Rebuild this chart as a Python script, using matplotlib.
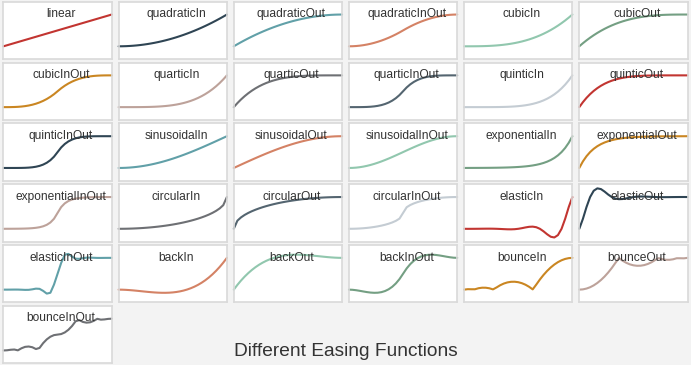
import numpy as np
import matplotlib
matplotlib.use("Agg")
import matplotlib.pyplot as plt

# easing curves, sampled at 31 points (t = 0 .. 1, step 1/30)
t = np.linspace(0, 1, 31)

linear = [0, .0333, .0667, .1, .1333, .1667, .2, .2333, .2667, .3, .3333, .3667, .4, .4333, .4667, .5,
          .5333, .5667, .6, .6333, .6667, .7, .7333, .7667, .8, .8333, .8667, .9, .9333, .9667, 1]
quadraticIn = [0, .0011, .0044, .01, .0178, .0278, .04, .0544, .0711, .09, .1111, .1344, .16, .1878, .2178, .25,
               .2844, .3211, .36, .4011, .4444, .49, .5378, .5878, .64, .6944, .7511, .81, .8711, .9344, 1]
quadraticOut = [0, .0656, .1289, .19, .2489, .3056, .36, .4122, .4622, .51, .5556, .5989, .64, .6789, .7156, .75,
                .7822, .8122, .84, .8656, .8889, .91, .9289, .9456, .96, .9722, .9822, .99, .9956, .9989, 1]
quadraticInOut = [0, .0022, .0089, .02, .0356, .0556, .08, .1089, .1422, .18, .2222, .2689, .32, .3756, .4356, .5,
                  .5644, .6244, .68, .7311, .7778, .82, .8578, .8911, .92, .9444, .9644, .98, .9911, .9978, 1]
cubicIn = [0, 0, .0003, .001, .0024, .0046, .008, .0127, .019, .027, .037, .0493, .064, .0814, .1016, .125,
           .1517, .182, .216, .254, .2963, .343, .3944, .4506, .512, .5787, .651, .729, .813, .9033, 1]
cubicOut = [0, .0967, .187, .271, .349, .4213, .488, .5494, .6056, .657, .7037, .746, .784, .818, .8483, .875,
            .8984, .9186, .936, .9507, .963, .973, .981, .9873, .992, .9954, .9976, .999, .9997, 1, 1]
cubicInOut = [0, .0001, .0012, .004, .0095, .0185, .032, .0508, .0759, .108, .1481, .1972, .256, .3255, .4065, .5,
              .5935, .6745, .744, .8028, .8519, .892, .9241, .9492, .968, .9815, .9905, .996, .9988, .9999, 1]
quarticIn = [0, 0, 0, .0001, .0003, .0008, .0016, .003, .0051, .0081, .0123, .0181, .0256, .0353, .0474, .0625,
             .0809, .1031, .1296, .1609, .1975, .2401, .2892, .3455, .4096, .4823, .5642, .6561, .7588, .8732, 1]
quarticOut = [0, .1268, .2412, .3439, .4358, .5178, .5904, .6545, .7108, .7599, .8025, .8391, .8704, .8969, .9191,
              .9375, .9526, .9647, .9744, .9819, .9877, .9919, .9949, .997, .9984, .9992, .9997, .9999, 1, 1, 1]
quarticInOut = [0, 0, .0002, .0008, .0025, .0062, .0128, .0237, .0405, .0648, .0988, .1446, .2048, .2821, .3794, .5,
                .6206, .7179, .7952, .8554, .9012, .9352, .9595, .9763, .9872, .9938, .9975, .9992, .9998, 1, 1]
quinticIn = [0, 0, 0, 0, 0, .0001, .0003, .0007, .0013, .0024, .0041, .0066, .0102, .0153, .0221, .0313,
             .0432, .0584, .0778, .1019, .1317, .1681, .2121, .2649, .3277, .4019, .4889, .5905, .7082, .8441, 1]
quinticOut = [0, .1559, .2918, .4095, .5111, .5981, .6723, .7351, .7879, .8319, .8683, .8981, .9222, .9416, .9568,
              .9688, .9779, .9847, .9898, .9934, .9959, .9976, .9987, .9993, .9997, .9999, 1, 1, 1, 1, 1]
quinticInOut = [0, 0, 0, .0002, .0007, .0021, .0051, .0111, .0216, .0389, .0658, .1061, .1638, .2445, .3541, .5,
                .6459, .7555, .8362, .8939, .9342, .9611, .9784, .9889, .9949, .9979, .9993, .9998, 1, 1, 1]
sinusoidalIn = [0, .0014, .0055, .0123, .0219, .0341, .0489, .0664, .0865, .109, .134, .1613, .191, .2229, .2569,
                .2929, .3309, .3707, .4122, .4554, .5, .546, .5933, .6416, .691, .7412, .7921, .8436, .8955, .9477, 1]
sinusoidalOut = [0, .0523, .1045, .1564, .2079, .2588, .309, .3584, .4067, .454, .5, .5446, .5878, .6293, .6691,
                 .7071, .7431, .7772, .809, .8387, .866, .891, .9136, .9336, .9511, .9659, .9781, .9877, .9945, .9986, 1]
sinusoidalInOut = [0, .0027, .0109, .0245, .0432, .067, .0955, .1284, .1654, .2061, .25, .2966, .3455, .396, .4477,
                   .5, .5523, .604, .6545, .7034, .75, .7939, .8346, .8716, .9045, .933, .9568, .9755, .9891, .9973, 1]
exponentialIn = [0, .0012, .0016, .002, .0025, .0031, .0039, .0049, .0062, .0078, .0098, .0124, .0156, .0197, .0248,
                 .0313, .0394, .0496, .0625, .0787, .0992, .125, .1575, .1984, .25, .315, .3969, .5, .63, .7937, 1]
exponentialOut = [0, .2063, .37, .5, .6032, .685, .75, .8016, .8425, .875, .9008, .9213, .9375, .9504, .9606, .9688,
                  .9752, .9803, .9844, .9876, .9902, .9922, .9938, .9951, .9961, .9969, .9975, .998, .9985, .9988, 1]
exponentialInOut = [0, .0008, .0012, .002, .0031, .0049, .0078, .0124, .0197, .0313, .0496, .0787, .125, .1984, .315,
                    .5, .685, .8016, .875, .9213, .9504, .9688, .9803, .9876, .9922, .9951, .9969, .998, .9988, .9992, 1]
circularIn = [0, .0006, .0022, .005, .0089, .014, .0202, .0276, .0362, .0461, .0572, .0696, .0835, .0988, .1156,
              .134, .1541, .1761, .2, .2261, .2546, .2859, .3201, .358, .4, .4472, .5011, .5641, .641, .744, 1]
circularOut = [0, .256, .359, .4359, .4989, .5528, .6, .6421, .6799, .7141, .7454, .7739, .8, .824, .8459, .866,
               .8844, .9012, .9165, .9304, .9428, .9539, .9638, .9724, .9798, .986, .9911, .995, .9978, .9994, 1]
circularInOut = [0, .0011, .0045, .0101, .0181, .0286, .0417, .0578, .0771, .1, .1273, .1601, .2, .2506, .3205, .5,
                 .6795, .7494, .8, .8399, .8727, .9, .9229, .9422, .9583, .9714, .9819, .9899, .9955, .9989, 1]
elasticIn = [0, -.0011, -.0008, 0, .0012, .0027, .0039, .0043, .0031, 0, -.0049, -.0107, -.0156, -.017, -.0124, 0,
             .0197, .043, .0625, .0682, .0496, 0, -.0787, -.1718, -.25, -.2728, -.1984, 0, .315, .6874, 1]
elasticOut = [0, .3126, .685, 1, 1.1984, 1.2728, 1.25, 1.1718, 1.0787, 1, .9504, .9318, .9375, .957, .9803, 1,
              1.0124, 1.017, 1.0156, 1.0107, 1.0049, 1, .9969, .9957, .9961, .9973, .9988, 1, 1.0008, 1.0011, 1]
elasticInOut = [0, -.0004, .0006, .002, .0016, -.0025, -.0078, -.0062, .0098, .0313, .0248, -.0394, -.125, -.0992,
                .1575, .5, .8425, 1.0992, 1.125, 1.0394, .9752, .9688, .9902, 1.0062, 1.0078, 1.0025, .9984, .998,
                .9994, 1.0004, 1]
backIn = [0, -.0018, -.0068, -.0143, -.0238, -.0348, -.0465, -.0583, -.0698, -.0802, -.089, -.0956, -.0994, -.0997,
          -.096, -.0877, -.0742, -.0548, -.029, .0038, .0442, .0929, .1504, .2173, .2942, .3818, .4806, .5912,
          .7142, .8503, 1]
backOut = [0, .1497, .2858, .4088, .5194, .6182, .7058, .7827, .8496, .9071, .9558, .9962, 1.029, 1.0548, 1.0742,
           1.0877, 1.096, 1.0997, 1.0994, 1.0956, 1.089, 1.0802, 1.0698, 1.0583, 1.0465, 1.0348, 1.0238, 1.0143,
           1.0068, 1.0018, 1]
backInOut = [0, -.0052, -.0188, -.0375, -.0582, -.0776, -.0926, -.0999, -.0964, -.0788, -.0441, .0111, .0899, .1955,
             .3312, .5, .6688, .8045, .9101, .9889, 1.0441, 1.0788, 1.0964, 1.0999, 1.0926, 1.0776, 1.0582, 1.0375,
             1.0188, 1.0052, 1]
bounceIn = [0, .0145, .0122, .0119, .0447, .0608, .06, .0424, .0081, .0694, .1389, .1916, .2275, .2466, .2489,
            .2344, .2031, .1549, .09, .0083, .1597, .3194, .4622, .5883, .6975, .7899, .8656, .9244, .9664, .9916, 1]
bounceOut = [0, .0084, .0336, .0756, .1344, .2101, .3025, .4117, .5378, .6806, .8403, .9917, .91, .8451, .7969,
             .7656, .7511, .7534, .7725, .8084, .8611, .9306, .9919, .9576, .94, .9392, .9553, .9881, .9878, .9855, 1]
bounceInOut = [0, .0061, .0224, .03, .004, .0694, .1138, .1244, .1015, .045, .0799, .2311, .3488, .4328, .4832, .5,
               .5168, .5672, .6513, .7689, .9201, .955, .8985, .8756, .8863, .9306, .996, .97, .9776, .9939, 1]

easing_names = ["linear", "quadraticIn", "quadraticOut", "quadraticInOut", "cubicIn", "cubicOut", "cubicInOut",
                "quarticIn", "quarticOut", "quarticInOut", "quinticIn", "quinticOut", "quinticInOut",
                "sinusoidalIn", "sinusoidalOut", "sinusoidalInOut", "exponentialIn", "exponentialOut",
                "exponentialInOut", "circularIn", "circularOut", "circularInOut", "elasticIn", "elasticOut",
                "elasticInOut", "backIn", "backOut", "backInOut", "bounceIn", "bounceOut", "bounceInOut"]
easing_values = [linear, quadraticIn, quadraticOut, quadraticInOut, cubicIn, cubicOut, cubicInOut,
                 quarticIn, quarticOut, quarticInOut, quinticIn, quinticOut, quinticInOut,
                 sinusoidalIn, sinusoidalOut, sinusoidalInOut, exponentialIn, exponentialOut,
                 exponentialInOut, circularIn, circularOut, circularInOut, elasticIn, elasticOut,
                 elasticInOut, backIn, backOut, backInOut, bounceIn, bounceOut, bounceInOut]

palette = ['#c23531', '#2f4554', '#61a0a8', '#d48265', '#91c7ae', '#749f83',
           '#ca8622', '#bda29a', '#6e7074', '#546570', '#c4ccd3']

W, H = 691, 365
fig = plt.figure(figsize=(W / 100, H / 100), dpi=100, facecolor='#f3f3f3')
plt.rcParams['font.family'] = ['Liberation Sans', 'DejaVu Sans']

n_row = 6
cw = 1 / n_row - 0.01  # cell width/height as figure fraction
for idx, (name, vals) in enumerate(zip(easing_names, easing_values)):
    col, row = idx % n_row, idx // n_row
    left = col / n_row + 0.005
    top = row / n_row + 0.005
    ax = fig.add_axes([left, 1 - top - cw, cw, cw])
    ax.set_facecolor('white')
    ax.plot(t, vals, color=palette[idx % len(palette)], lw=1.5, solid_capstyle='round', clip_on=False)
    ax.set_xlim(0, 1)
    ax.set_ylim(-0.4, 1.4)
    ax.set_xticks([])
    ax.set_yticks([])
    for sp in ax.spines.values():
        sp.set_color('#d9d9d9')
        sp.set_linewidth(1.2)
    # title above each cell
    cx = (left + cw / 2) * W + 3.5
    ty = top * H + 15.5
    fig.text(cx / W, 1 - ty / H, name, ha='center', va='baseline',
             fontsize=12 * 0.72, color='#333333', zorder=5)

fig.text(0.5, 8.5 / H, 'Different Easing Functions', ha='center', va='baseline',
         fontsize=19.2 * 0.72, color='#333333')

fig.savefig('out.png', dpi=100, facecolor=fig.get_facecolor())
